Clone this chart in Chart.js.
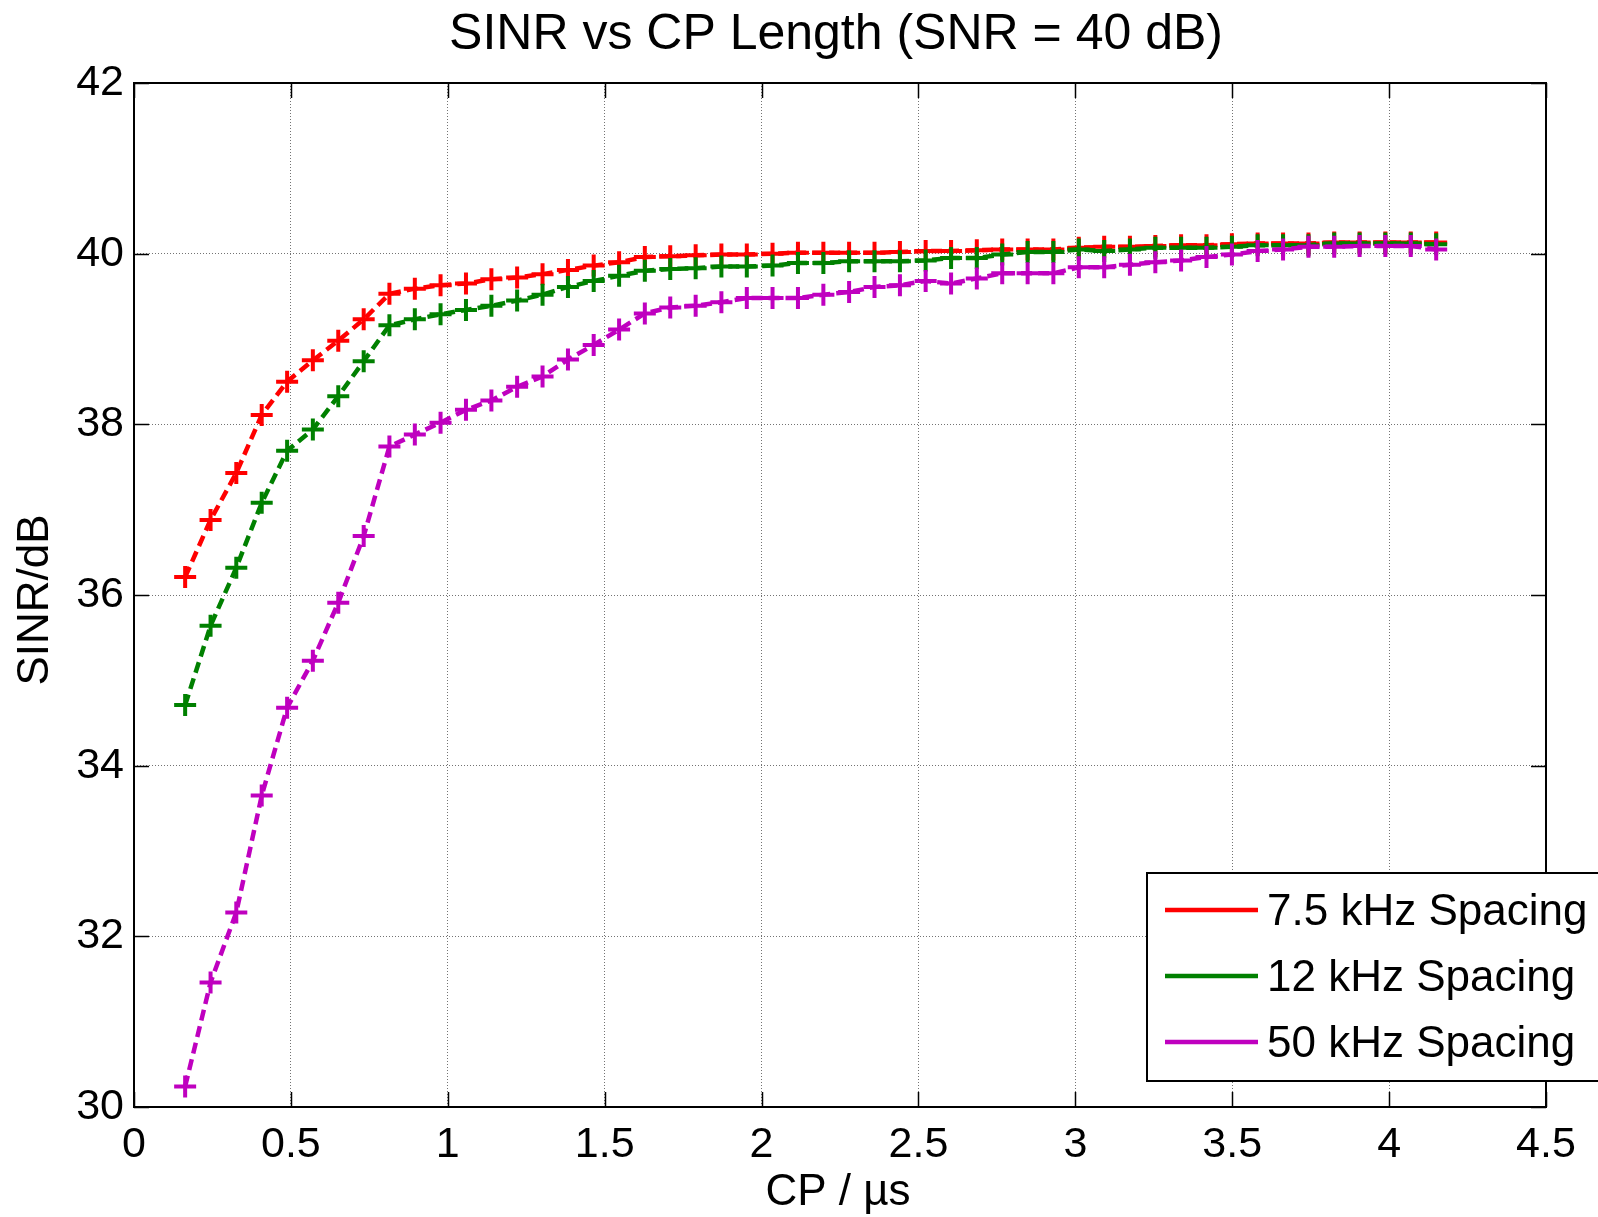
<!DOCTYPE html>
<html><head><meta charset="utf-8">
<script src="https://cdn.jsdelivr.net/npm/chart.js@4/dist/chart.umd.min.js"></script>
<style>html,body{margin:0;padding:0;background:#fff;overflow:hidden}canvas{display:block}</style>
</head><body><canvas id="c" width="1598" height="1217"></canvas>
<script>
const cpUs = [0.163,0.244,0.326,0.407,0.488,0.570,0.651,0.732,0.814,0.895,
  0.977,1.058,1.139,1.221,1.302,1.383,1.465,1.546,1.628,1.709,
  1.790,1.872,1.953,2.035,2.116,2.197,2.279,2.360,2.441,2.523,
  2.604,2.686,2.767,2.848,2.930,3.011,3.092,3.174,3.255,3.337,
  3.418,3.499,3.581,3.662,3.743,3.825,3.906,3.988,4.069,4.150];
const sinr75 = [36.21,36.88,37.43,38.11,38.50,38.75,38.98,39.23,39.53,39.59,
  39.63,39.65,39.70,39.72,39.76,39.81,39.86,39.90,39.96,39.97,
  39.98,39.99,39.99,40.00,40.01,40.01,40.01,40.01,40.02,40.03,
  40.03,40.04,40.05,40.05,40.05,40.07,40.08,40.08,40.09,40.10,
  40.10,40.11,40.12,40.12,40.12,40.13,40.13,40.13,40.13,40.13];
const sinr12 = [34.71,35.64,36.32,37.08,37.69,37.94,38.33,38.74,39.16,39.23,
  39.29,39.34,39.39,39.45,39.52,39.61,39.68,39.74,39.80,39.82,
  39.83,39.85,39.85,39.86,39.89,39.89,39.91,39.91,39.91,39.92,
  39.95,39.95,39.99,40.02,40.02,40.05,40.03,40.05,40.07,40.07,
  40.07,40.08,40.10,40.10,40.10,40.12,40.12,40.12,40.12,40.11];
const sinr50 = [30.24,31.46,32.28,33.65,34.68,35.23,35.91,36.69,37.74,37.88,
  38.02,38.17,38.28,38.44,38.56,38.76,38.93,39.11,39.30,39.37,
  39.39,39.43,39.48,39.48,39.48,39.52,39.55,39.61,39.63,39.68,
  39.65,39.71,39.77,39.77,39.77,39.84,39.84,39.87,39.90,39.92,
  39.96,39.99,40.03,40.05,40.08,40.08,40.09,40.09,40.09,40.05];
const seriesLabels = ['7.5 kHz Spacing','12 kHz Spacing','50 kHz Spacing'];
const seriesColors = ['#ff0000','#008000','#bf00bf'];
const xTicks = [0,0.5,1,1.5,2,2.5,3,3.5,4,4.5];
const yTicks = [30,32,34,36,38,40,42];
const titleText = 'SINR vs CP Length (SNR = 40 dB)';
const xTitle = 'CP / µs';
const yTitle = 'SINR/dB';

const FONT = "'Liberation Sans', Arial, sans-serif";

function mk(i, ys, order){
  return {
    label: seriesLabels[i],
    data: cpUs.map((x, j) => ({x: x, y: ys[j]})),
    borderColor: seriesColors[i],
    backgroundColor: seriesColors[i],
    borderWidth: 4.5,
    borderDash: [11, 6],
    pointStyle: 'cross',
    pointRadius: 11,
    pointBorderWidth: 4,
    pointHoverRadius: 11,
    fill: false,
    tension: 0,
    order: order
  };
}

const frame = {
  id: 'frame',
  beforeDatasetsDraw(chart){
    const {ctx, chartArea: a, scales:{x, y}} = chart;
    ctx.save();
    ctx.strokeStyle = '#000';
    ctx.lineWidth = 1.5;
    const L = 15;
    xTicks.forEach(v => {
      const px = Math.round(x.getPixelForValue(v)) + 0.5;
      ctx.beginPath(); ctx.moveTo(px, a.bottom); ctx.lineTo(px, a.bottom - L); ctx.stroke();
      ctx.beginPath(); ctx.moveTo(px, a.top); ctx.lineTo(px, a.top + L); ctx.stroke();
    });
    yTicks.forEach(v => {
      const py = Math.round(y.getPixelForValue(v)) + 0.5;
      ctx.beginPath(); ctx.moveTo(a.left, py); ctx.lineTo(a.left + L, py); ctx.stroke();
      ctx.beginPath(); ctx.moveTo(a.right, py); ctx.lineTo(a.right - L, py); ctx.stroke();
    });
    ctx.lineWidth = 2;
    ctx.strokeRect(a.left, a.top, a.right - a.left, a.bottom - a.top);
    ctx.restore();
  },
  afterDraw(chart){
    const {ctx, chartArea: a} = chart;
    ctx.save();
    ctx.fillStyle = '#000';
    ctx.textAlign = 'center';
    ctx.textBaseline = 'middle';
    ctx.font = '50px ' + FONT;
    ctx.fillText(titleText, (a.left + a.right)/2 - 4, 35);
    ctx.font = '44px ' + FONT;
    ctx.fillText(xTitle, (a.left + a.right)/2 - 2, 1193);
    ctx.save();
    ctx.translate(36, (a.top + a.bottom)/2 + 5);
    ctx.rotate(-Math.PI/2);
    ctx.fillText(yTitle, 0, 0);
    ctx.restore();
    // legend
    const bx = 1147, by = 873, bw = 470, bh = 208;
    ctx.fillStyle = '#fff';
    ctx.fillRect(bx, by, bw, bh);
    ctx.strokeStyle = '#000';
    ctx.lineWidth = 2;
    ctx.strokeRect(bx, by, bw, bh);
    const rows = [910, 976, 1042];
    ctx.textAlign = 'left';
    ctx.font = '44px ' + FONT;
    chart.data.datasets.forEach((ds, i) => {
      ctx.strokeStyle = ds.borderColor;
      ctx.lineWidth = 4.5;
      ctx.beginPath(); ctx.moveTo(1165, rows[i]); ctx.lineTo(1258, rows[i]); ctx.stroke();
      ctx.fillStyle = '#000';
      ctx.fillText(ds.label, 1267, rows[i] + 3);
    });
    ctx.restore();
  }
};

new Chart(document.getElementById('c'), {
  type: 'line',
  data: { datasets: [ mk(0, sinr75, 3), mk(1, sinr12, 2), mk(2, sinr50, 1) ] },
  options: {
    responsive: false,
    animation: false,
    devicePixelRatio: 1,
    layout: { padding: { left: 0, right: 52, top: 83, bottom: 0 } },
    plugins: { legend: { display: false }, title: { display: false }, tooltip: { enabled: false } },
    scales: {
      x: {
        type: 'linear', min: 0, max: 4.5,
        afterBuildTicks(s){ s.ticks = xTicks.map(v => ({value: v})); },
        afterFit(s){ s.height = 110; },
        grid: { color: 'rgba(0,0,0,0.55)', lineWidth: 1, drawTicks: false },
        border: { display: false, dash: [1,2] },
        ticks: { color: '#000', font: { family: FONT, size: 43 }, padding: 12, maxRotation: 0, autoSkip: false,
          callback: v => String(v) }
      },
      y: {
        type: 'linear', min: 30, max: 42,
        afterBuildTicks(s){ s.ticks = yTicks.map(v => ({value: v})); },
        afterFit(s){ s.width = 134; },
        grid: { color: 'rgba(0,0,0,0.55)', lineWidth: 1, drawTicks: false },
        border: { display: false, dash: [1,2] },
        ticks: { color: '#000', font: { family: FONT, size: 43 }, padding: 10, autoSkip: false,
          callback: v => String(v) }
      }
    }
  },
  plugins: [frame]
});
</script>
</body></html>
